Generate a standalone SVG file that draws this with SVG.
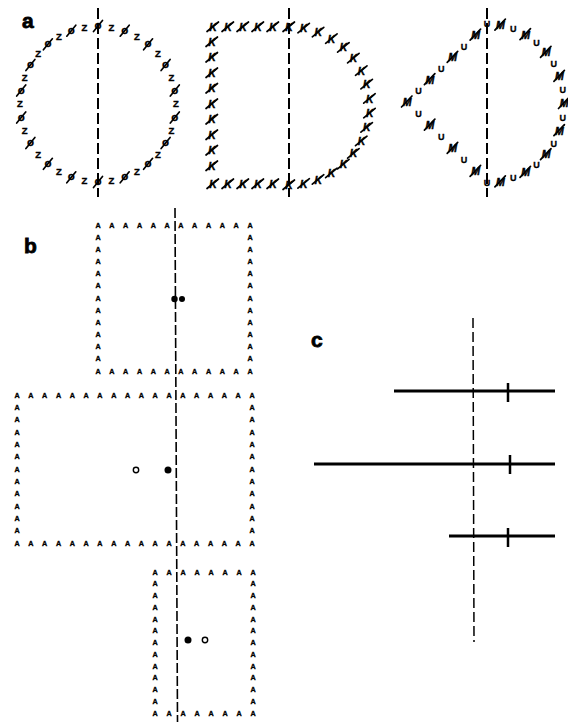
<svg xmlns="http://www.w3.org/2000/svg" width="568" height="724" viewBox="0 0 568 724">
<style>
text{font-family:"Liberation Sans",Arial,sans-serif;font-weight:bold;fill:#000;text-anchor:middle}
.lbl{font-size:21px;text-anchor:start;stroke:#000;stroke-width:0.8}
.o{font-size:11.5px;stroke:#000;stroke-width:0.3}
.z{font-size:9.5px;stroke:#000;stroke-width:0.35}
.k{font-size:10.5px;font-style:italic;stroke:#000;stroke-width:0.4}
.m{font-size:10.5px;font-style:italic;stroke:#000;stroke-width:0.4}
.u{font-size:9px;stroke:#000;stroke-width:0.3}
.A{font-size:7.2px;stroke:#000;stroke-width:0.35}
.sl{stroke:#000;stroke-width:1.7;stroke-linecap:round}
.dash{stroke:#000;fill:none}
.bar{stroke:#000;stroke-width:3}
.tick{stroke:#000;stroke-width:2.5}
</style>
<defs>
<g id="ph"><text class="o" x="0" y="3">o</text><line class="sl" x1="-4.5" y1="5.5" x2="4.5" y2="-5.5"/></g>
<g id="z"><text class="z" x="0" y="3.4">Z</text></g>
<g id="k"><text class="k" x="0" y="3.8">K</text><line class="sl" x1="-6" y1="4.5" x2="5.5" y2="-5"/></g>
<g id="m"><text class="m" x="0" y="3.8">M</text><line class="sl" x1="-5.5" y1="5" x2="5" y2="-6"/></g>
<g id="u"><text class="u" x="0" y="3.2">U</text></g>
</defs>
<rect width="568" height="724" fill="#fff"/>

<g id="panel-a">
<text class="lbl" x="22" y="28">a</text>
<g id="shape-oz">
<line class="dash" x1="98" y1="8" x2="98" y2="197" stroke-width="2" stroke-dasharray="11 4"/>
<use href="#ph" x="98" y="26"/><use href="#z" x="111.5" y="27.2"/><use href="#ph" x="124.7" y="30.7"/><use href="#z" x="137" y="36.5"/>
<use href="#ph" x="148.1" y="44.3"/><use href="#z" x="157.8" y="53.9"/><use href="#ph" x="165.6" y="65"/><use href="#z" x="171.3" y="77.3"/>
<use href="#ph" x="174.8" y="90.5"/><use href="#z" x="176" y="104"/><use href="#ph" x="174.8" y="117.5"/><use href="#z" x="171.3" y="130.7"/>
<use href="#ph" x="165.6" y="143"/><use href="#z" x="157.8" y="154.1"/><use href="#ph" x="148.1" y="163.8"/><use href="#z" x="137" y="171.6"/>
<use href="#ph" x="124.7" y="177.3"/><use href="#z" x="111.5" y="180.8"/><use href="#ph" x="98" y="182"/><use href="#z" x="84.5" y="180.8"/>
<use href="#ph" x="71.3" y="177.3"/><use href="#z" x="59" y="171.6"/><use href="#ph" x="47.9" y="163.8"/><use href="#z" x="38.2" y="154.1"/>
<use href="#ph" x="30.4" y="143"/><use href="#z" x="24.7" y="130.7"/><use href="#ph" x="21.2" y="117.5"/><use href="#z" x="20" y="104"/>
<use href="#ph" x="21.2" y="90.5"/><use href="#z" x="24.7" y="77.3"/><use href="#ph" x="30.4" y="65"/><use href="#z" x="38.2" y="53.9"/>
<use href="#ph" x="47.9" y="44.3"/><use href="#z" x="59" y="36.5"/><use href="#ph" x="71.3" y="30.7"/><use href="#z" x="84.5" y="27.2"/>
</g>
<g id="shape-k">
<line class="dash" x1="289" y1="8" x2="289" y2="197" stroke-width="2" stroke-dasharray="11 4"/>
<use href="#k" x="213" y="27"/><use href="#k" x="228" y="27"/><use href="#k" x="243" y="27"/><use href="#k" x="258" y="27"/><use href="#k" x="273" y="27"/>
<use href="#k" x="289" y="27"/><use href="#k" x="303.9" y="28.3"/><use href="#k" x="318.3" y="32.3"/><use href="#k" x="331.6" y="38.8"/>
<use href="#k" x="343.6" y="47.6"/><use href="#k" x="353.6" y="58.4"/><use href="#k" x="361.5" y="70.8"/><use href="#k" x="366.9" y="84.4"/>
<use href="#k" x="369.7" y="98.7"/><use href="#k" x="369.7" y="113.3"/><use href="#k" x="366.9" y="127.6"/><use href="#k" x="361.5" y="141.2"/>
<use href="#k" x="353.6" y="153.6"/><use href="#k" x="343.6" y="164.4"/><use href="#k" x="331.6" y="173.2"/><use href="#k" x="318.3" y="179.7"/>
<use href="#k" x="303.9" y="183.7"/><use href="#k" x="289" y="185"/>
<use href="#k" x="273" y="184"/><use href="#k" x="258" y="184"/><use href="#k" x="243" y="184"/><use href="#k" x="228" y="184"/><use href="#k" x="213" y="184"/>
<use href="#k" x="212" y="42"/><use href="#k" x="212" y="57.5"/><use href="#k" x="212" y="73"/><use href="#k" x="212" y="88.5"/><use href="#k" x="212" y="104"/>
<use href="#k" x="212" y="119.5"/><use href="#k" x="212" y="135"/><use href="#k" x="212" y="150.5"/><use href="#k" x="212" y="166"/>
</g>
<g id="shape-mu">
<line class="dash" x1="487" y1="8" x2="487" y2="197" stroke-width="2" stroke-dasharray="11 4"/>
<use href="#u" x="487" y="24"/><use href="#m" x="500.4" y="25.2"/><use href="#u" x="513.3" y="28.8"/><use href="#m" x="525.5" y="34.7"/>
<use href="#u" x="536.5" y="42.6"/><use href="#m" x="546" y="52.4"/><use href="#u" x="553.7" y="63.8"/><use href="#m" x="559.4" y="76.3"/>
<use href="#u" x="562.8" y="89.7"/><use href="#m" x="564" y="103.5"/><use href="#u" x="562.8" y="117.3"/><use href="#m" x="559.4" y="130.7"/>
<use href="#u" x="553.7" y="143.3"/><use href="#m" x="546" y="154.6"/><use href="#u" x="536.5" y="164.4"/><use href="#m" x="525.5" y="172.4"/>
<use href="#u" x="513.3" y="178.2"/><use href="#m" x="500.4" y="181.8"/><use href="#u" x="487" y="183"/>
<use href="#m" x="475.6" y="35.1"/><use href="#u" x="464.1" y="46.3"/><use href="#m" x="452.7" y="57.4"/><use href="#u" x="441.3" y="68.6"/>
<use href="#m" x="429.9" y="79.7"/><use href="#u" x="418.4" y="90.9"/><use href="#m" x="407" y="102"/><use href="#u" x="418.4" y="113.6"/>
<use href="#m" x="429.9" y="125.1"/><use href="#u" x="441.3" y="136.7"/><use href="#m" x="452.7" y="148.3"/><use href="#u" x="464.1" y="159.9"/>
<use href="#m" x="475.6" y="171.4"/>
</g>
</g>

<g id="panel-b">
<text class="lbl" x="24" y="253">b</text>
<line class="dash" x1="175" y1="208" x2="177.5" y2="722" stroke-width="1.6" stroke-dasharray="10 3"/>
<g id="box-1">
<text class="A" x="98 111.8 125.6 139.5 153.3 167.1 180.9 194.7 208.5 222.4 236.2 250" y="227.6">AAAAAAAAAAAA</text>
<text class="A" x="98 111.8 125.6 139.5 153.3 167.1 180.9 194.7 208.5 222.4 236.2 250" y="373.6">AAAAAAAAAAAA</text>
<text class="A" x="98 98 98 98 98 98 98 98 98 98 98" y="239.8 251.9 264.1 276.3 288.4 300.6 312.8 324.9 337.1 349.3 361.4">AAAAAAAAAAA</text>
<text class="A" x="250 250 250 250 250 250 250 250 250 250 250" y="239.8 251.9 264.1 276.3 288.4 300.6 312.8 324.9 337.1 349.3 361.4">AAAAAAAAAAA</text>
<circle cx="174.5" cy="299" r="3.2" fill="#000"/>
<circle cx="182" cy="299" r="3" fill="#000"/>
</g>
<g id="box-2">
<text class="A" x="17 30.8 44.6 58.5 72.3 86.1 99.9 113.8 127.6 141.4 155.2 169 182.9 196.7 210.5 224.3 238.1 252" y="397.6">AAAAAAAAAAAAAAAAAA</text>
<text class="A" x="17 30.8 44.6 58.5 72.3 86.1 99.9 113.8 127.6 141.4 155.2 169 182.9 196.7 210.5 224.3 238.1 252" y="545.6">AAAAAAAAAAAAAAAAAA</text>
<text class="A" x="17 17 17 17 17 17 17 17 17 17 17" y="409.9 422.3 434.6 446.9 459.3 471.6 483.9 496.3 508.6 520.9 533.3">AAAAAAAAAAA</text>
<text class="A" x="252 252 252 252 252 252 252 252 252 252 252" y="409.9 422.3 434.6 446.9 459.3 471.6 483.9 496.3 508.6 520.9 533.3">AAAAAAAAAAA</text>
<circle cx="136" cy="470" r="2.7" fill="#fff" stroke="#000" stroke-width="1.4"/>
<circle cx="168" cy="470" r="3.5" fill="#000"/>
</g>
<g id="box-3">
<text class="A" x="155 169 183 197 211 225 239 253" y="574.6">AAAAAAAA</text>
<text class="A" x="155 169 183 197 211 225 239 253" y="715.6">AAAAAAAA</text>
<text class="A" x="155 155 155 155 155 155 155 155 155 155 155" y="586.4 598.1 609.9 621.6 633.4 645.1 656.9 668.6 680.4 692.1 703.9">AAAAAAAAAAA</text>
<text class="A" x="253 253 253 253 253 253 253 253 253 253 253" y="586.4 598.1 609.9 621.6 633.4 645.1 656.9 668.6 680.4 692.1 703.9">AAAAAAAAAAA</text>
<circle cx="188" cy="640" r="3.5" fill="#000"/>
<circle cx="205" cy="640" r="2.7" fill="#fff" stroke="#000" stroke-width="1.4"/>
</g>
</g>

<g id="panel-c">
<text class="lbl" x="311" y="347">c</text>
<line class="dash" x1="473" y1="318" x2="474" y2="642" stroke-width="1.5" stroke-dasharray="10 4"/>
<line class="bar" x1="394" y1="391" x2="555" y2="391"/>
<line class="tick" x1="508" y1="383" x2="508" y2="402"/>
<line class="bar" x1="314" y1="464" x2="555" y2="464"/>
<line class="tick" x1="510" y1="455" x2="510" y2="474"/>
<line class="bar" x1="449" y1="536" x2="555" y2="536"/>
<line class="tick" x1="508" y1="528" x2="508" y2="547"/>
</g>
</svg>
